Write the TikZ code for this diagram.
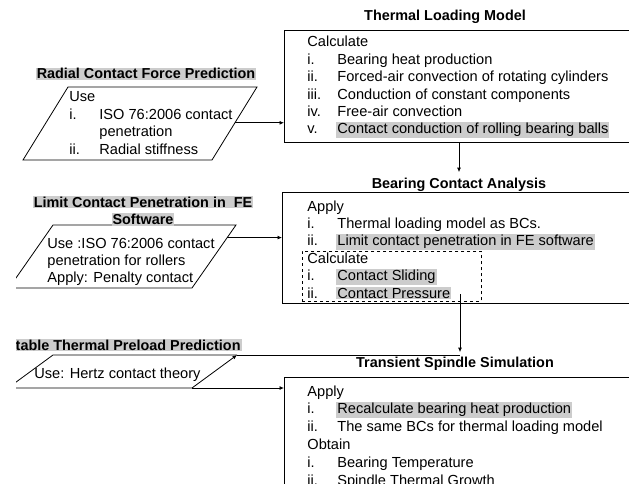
\documentclass[tikz,border=0pt]{standalone}
\usepackage{fontspec}
\setmainfont{Liberation Sans}
\usetikzlibrary{arrows.meta,calc}
\definecolor{hlgray}{gray}{0.8}
\newcommand{\hlt}[1]{{\setlength{\fboxsep}{1pt}\kern-1pt\colorbox{hlgray}{#1}\kern-1pt}}
\newcommand{\itm}[1]{\makebox[30pt][l]{#1}}
\newcommand{\lst}[1]{\begin{tabular}[t]{@{}l@{}}#1\end{tabular}}

\begin{document}
\begin{tikzpicture}[x=1pt,y=-1pt,line width=0.8pt,
	txt/.style={anchor=base west,inner sep=0pt,font=\fontsize{14.6}{17.4}\selectfont},
	ttl/.style={anchor=base,inner sep=0pt,font=\bfseries\fontsize{14.4}{17.4}\selectfont},
	box/.style={draw,anchor=north west,minimum width=400pt,inner sep=0pt},
	arr/.style={-{Latex[length=4.5pt,width=4pt]}}]
	\useasboundingbox (0,0) rectangle (629,484);
	\clip (16,0) rectangle (629,484);

	\node[box,minimum height=112pt] (tlm) at (284,30) {};
	\node[ttl] (tlmt) at (445,21) {Thermal Loading Model};
	\node[txt] at (307,47) {\lst{Calculate\\
		\itm{i.}Bearing heat production\\
		\itm{ii.}Forced-air convection of rotating cylinders\\
		\itm{iii.}Conduction of constant components\\
		\itm{iv.}Free-air convection\\
		\itm{v.}\hlt{Contact conduction of rolling bearing balls}}};

	\node[box,minimum height=111pt] (bca) at (282,192) {};
	\node[ttl] (bcat) at (459,188) {Bearing Contact Analysis};
	\node[draw,dashed,anchor=north west,minimum width=179pt,minimum height=50pt,inner sep=0pt] (calc) at (302,251) {};
	\node[txt] at (307,211) {\lst{Apply\\
		\itm{i.}Thermal loading model as BCs.\\
		\itm{ii.}\hlt{Limit contact penetration in FE software}\\
		Calculate\\
		\itm{i.}\hlt{Contact Sliding}\\
		\itm{ii.}\hlt{Contact Pressure}}};

	\node[box,minimum height=200pt] (tss) at (284,377) {};
	\node[ttl] (tsst) at (455,367) {Transient Spindle Simulation};
	\node[txt,font=\fontsize{14.6}{17.8}\selectfont] at (307,396) {\lst{Apply\\
		\itm{i.}\hlt{Recalculate bearing heat production}\\
		\itm{ii.}The same BCs for thermal loading model\\
		Obtain\\
		\itm{i.}Bearing Temperature\\
		\itm{ii.}Spindle Thermal Growth}};

	\coordinate (rcf-tl) at (68,87);
	\coordinate (rcf-tr) at (257,87);
	\coordinate (rcf-br) at (212,160);
	\coordinate (rcf-bl) at (23,160);
	\draw (rcf-tl) -- (rcf-tr) -- (rcf-br) -- (rcf-bl) -- cycle;
	\node[ttl] (rcft) at (146,79) {\hlt{Radial Contact Force Prediction}};
	\node[txt] at (69,102) {\lst{Use\\
		\itm{i.}ISO 76:2006 contact\\
		\itm{}penetration\\
		\itm{ii.}Radial stiffness}};

	\coordinate (lcp-tl) at (53,225);
	\coordinate (lcp-tr) at (236,225);
	\coordinate (lcp-br) at (192,288);
	\coordinate (lcp-bl) at (9,288);
	\draw (lcp-tl) -- (lcp-tr) -- (lcp-br) -- (lcp-bl) -- cycle;
	\node[ttl] (lcpt) at (143,207) {\begin{tabular}[t]{@{}c@{}}\hlt{Limit Contact Penetration in\ \ FE}\\\hlt{Software}\end{tabular}};
	\node[txt] at (47,248) {\lst{Use :ISO 76:2006 contact\\
		penetration for rollers\\
		Apply: Penalty contact}};

	\coordinate (stp-tl) at (53,355);
	\coordinate (stp-tr) at (237,355);
	\coordinate (stp-br) at (192,388);
	\coordinate (stp-bl) at (8,388);
	\draw (stp-br) -- (stp-bl) -- (stp-tl) -- (stp-tr);
	\node[ttl,anchor=base east] (stpt) at (241,350) {\hlt{Stable Thermal Preload Prediction}};
	\node[txt] at (34,378) {Use: Hertz contact theory};

	\coordinate (rcf-out) at ($(rcf-tr)!.49!(rcf-br)$);
	\coordinate (lcp-out) at ($(lcp-tr)!.2!(lcp-br)$);
	\coordinate (a2) at (460,294);
	\draw[arr] (rcf-out) -- (rcf-out -| tlm.west);
	\draw[arr] (lcp-out) -- (lcp-out -| bca.west);
	\draw[arr] (stp-br) -- (stp-br -| tss.west);
	\draw[arr,shorten >=5pt] (tlm.south -| bcat.north) -- (bcat.north);
	\draw[arr,shorten >=4pt] (a2) -- (a2 |- tsst.north);
	\draw (stp-tr) -- (stp-tr -| a2);
	\draw[arr] (stp-br) -- (stp-tr);
\end{tikzpicture}
\end{document}
